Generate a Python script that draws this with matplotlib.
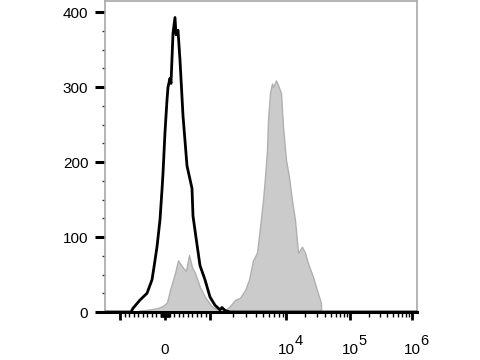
import numpy as np
import matplotlib
matplotlib.use("Agg")
import matplotlib.pyplot as plt

plt.rcParams['font.family'] = ['Liberation Sans', 'DejaVu Sans']

# 直方图数据: 横轴为显示通道 (0-312), 纵轴为细胞数
iso_chan = [0, 26, 28, 35, 42, 47, 49, 52, 55, 57, 58, 60, 62, 63, 65, 66, 68,
            70, 71, 73, 75, 78, 82, 87, 88, 92, 95, 100, 105, 110, 115, 117, 120, 125, 312]
iso_count = [0, 0, 5, 16, 25, 43, 60, 87, 123, 163, 185, 240, 283, 300, 312, 305, 372,
             393, 370, 376, 336, 262, 195, 165, 128, 90, 62, 43, 20, 9, 3, 6, 2, 0, 0]

stain_chan = [30, 35, 43, 52, 58, 62, 65, 70, 73, 76, 78, 81, 84, 87, 90, 95, 100, 107,
              113, 117, 121, 125, 130, 135, 140, 144, 148, 152, 155, 158, 160, 162, 163,
              165, 167, 168, 171, 173, 176, 178, 181, 184, 187, 190, 193, 197, 200, 203,
              208, 212, 216]
stain_count = [0, 2, 3, 5, 8, 13, 29, 52, 69, 63, 59, 55, 76, 60, 52, 33, 20, 7,
               3, 6, 3, 8, 16, 19, 29, 43, 69, 79, 113, 149, 180, 216, 256,
               292, 305, 300, 309, 303, 292, 247, 203, 180, 149, 123, 79, 87, 79, 65,
               47, 29, 12]

# 横轴刻度 (荧光强度 -> 通道)
decade_chan = [105, 181, 245, 307]   # 10^3 .. 10^6
zero_chan = 60
lin_per_unit = 45 / 1000.0


def to_chan(v):
    if abs(v) <= 1000:
        return zero_chan + v * lin_per_unit
    e = np.log10(v)
    k = int(np.floor(e)) - 3
    if k >= len(decade_chan) - 1:
        return decade_chan[-1]
    return decade_chan[k] + (e - np.floor(e)) * (decade_chan[k + 1] - decade_chan[k])


major_vals = [-1000, 0, 1000, 1e4, 1e5, 1e6]
major_labels = ['', '0', '', '10', '10', '10']
exponents = {1e4: '4', 1e5: '5', 1e6: '6'}
minor_vals = []
for m in range(1, 10):
    minor_vals += [m * 10, -m * 10, m * 100, -m * 100]
for e in [3, 4, 5]:
    for m in range(2, 10):
        minor_vals.append(m * 10 ** e)

fig = plt.figure(figsize=(4.8, 3.6), dpi=100)
ax = fig.add_axes([105 / 480, 48 / 360, 312 / 480, 311 / 360])

ax.fill_between(stain_chan, stain_count, 0, facecolor='#cbcbcb', edgecolor='#b0b0b0', linewidth=1.0, zorder=2)
ax.plot(iso_chan, iso_count, color='black', linewidth=2.0, zorder=3)

ax.set_xlim(0, 312)
ax.set_ylim(0, 415)

ax.set_yticks([0, 100, 200, 300, 400])
ax.set_yticks(np.arange(25, 400, 25), minor=True)
ax.tick_params(axis='y', which='major', length=7, width=2.2, color='black', labelsize=11, pad=5)
ax.tick_params(axis='y', which='minor', length=2.5, width=1, color='#333333')

ax.set_xticks([to_chan(v) for v in major_vals])
ax.set_xticklabels(major_labels)
ax.set_xticks([to_chan(v) for v in minor_vals], minor=True)
ax.tick_params(axis='x', which='major', length=6, width=2, color='black', labelsize=11, pad=24)
ax.tick_params(axis='x', which='minor', length=3.5, width=1, color='black')
plt.setp(ax.get_xticklabels(), va='baseline')

# 上标指数
for v, ex in exponents.items():
    ax.annotate(ex, xy=(to_chan(v), 0), xycoords=('data', 'axes fraction'),
                xytext=(6, -24), textcoords='offset points',
                ha='left', va='baseline', fontsize=10.5)

for s in ['top', 'right', 'left']:
    ax.spines[s].set_color('#a8a8a8')
    ax.spines[s].set_linewidth(1.2)
ax.spines['bottom'].set_color('black')
ax.spines['bottom'].set_linewidth(2.2)
ax.spines['bottom'].set_zorder(4)

fig.savefig('out.png', dpi=100)
